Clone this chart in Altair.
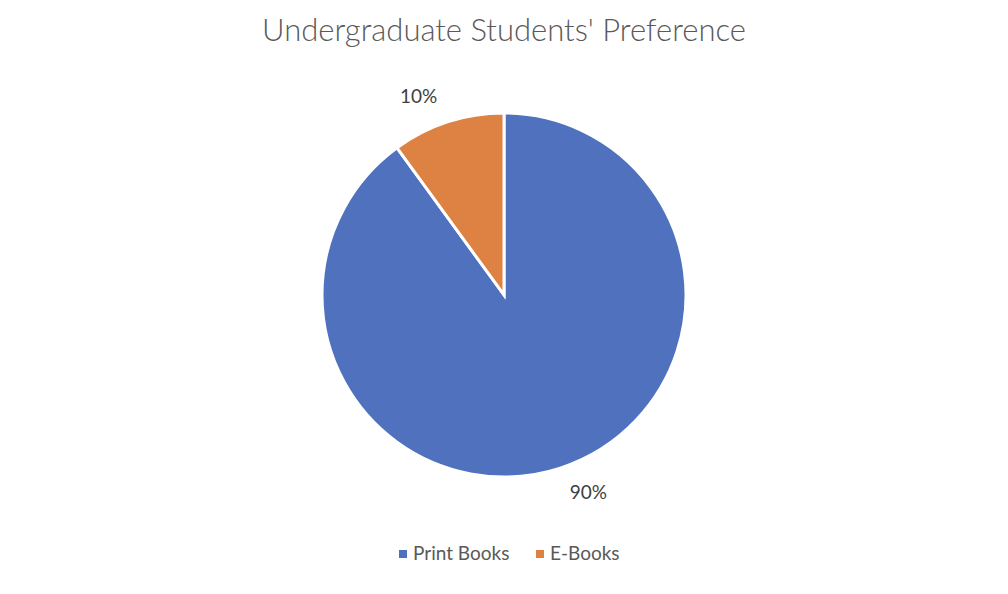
import altair as alt
import pandas as pd

categories = ["Print Books", "E-Books"]
values = [90, 10]
labels = ["90%", "10%"]
colors = ["#4F71BE", "#DD8243"]
title_text = "Undergraduate Students' Preference"

df = pd.DataFrame({"cat": categories, "val": values, "label": labels, "order": [0, 1]})
legend_df = pd.DataFrame({"cat": categories, "lx": [395, 532]})

W, H = 992, 578
CX, CY = 496, 287
FONT = "Lato"

color_scale = alt.Scale(domain=categories, range=colors)

pie = alt.Chart(df).mark_arc(radius=182, stroke="white", strokeWidth=3, x=CX, y=CY).encode(
    theta=alt.Theta("val:Q", stack=True),
    order=alt.Order("order:Q"),
    color=alt.Color("cat:N", scale=color_scale, legend=None),
)

lab_base = alt.Chart(df).transform_window(
    cum="sum(val)", sort=[alt.SortField("order")]
).transform_joinaggregate(
    total="sum(val)"
).transform_calculate(
    mid="(datum.cum - datum.val / 2) / datum.total"
).encode(
    theta=alt.Theta("mid:Q", stack=None, scale=alt.Scale(domain=[0, 1])),
    text="label:N",
)

lab_small = lab_base.mark_text(radius=215, x=CX, y=CY, font=FONT, fontSize=19, color="#404040", dx=-19, dy=6).transform_filter(
    alt.datum.cat == "E-Books"
)
lab_big = lab_base.mark_text(radius=215, x=CX, y=CY, font=FONT, fontSize=19, color="#404040", dx=18, dy=-6).transform_filter(
    alt.datum.cat == "Print Books"
)

title = alt.Chart(pd.DataFrame({"t": [title_text]})).mark_text(
    font=FONT, fontSize=31, fontWeight=300, color="#595959", x=CX, y=24
).encode(text="t:N")

leg_sq = alt.Chart(legend_df).mark_square(size=64, opacity=1).encode(
    x=alt.X("lx:Q", scale=alt.Scale(domain=[0, W]), axis=None),
    y=alt.value(546),
    color=alt.Color("cat:N", scale=color_scale, legend=None),
)
leg_tx = alt.Chart(legend_df).mark_text(
    align="left", baseline="middle", dx=10, font=FONT, fontSize=19, color="#595959"
).encode(
    x=alt.X("lx:Q", scale=alt.Scale(domain=[0, W]), axis=None),
    y=alt.value(546),
    text="cat:N",
)

chart = alt.layer(pie, lab_small, lab_big, title, leg_sq, leg_tx).resolve_scale(
    theta="independent"
).properties(
    width=W, height=H, background="white", padding=0
).configure_view(stroke=None)

chart.save("out.html", embed_options={"renderer": "svg", "actions": False})
